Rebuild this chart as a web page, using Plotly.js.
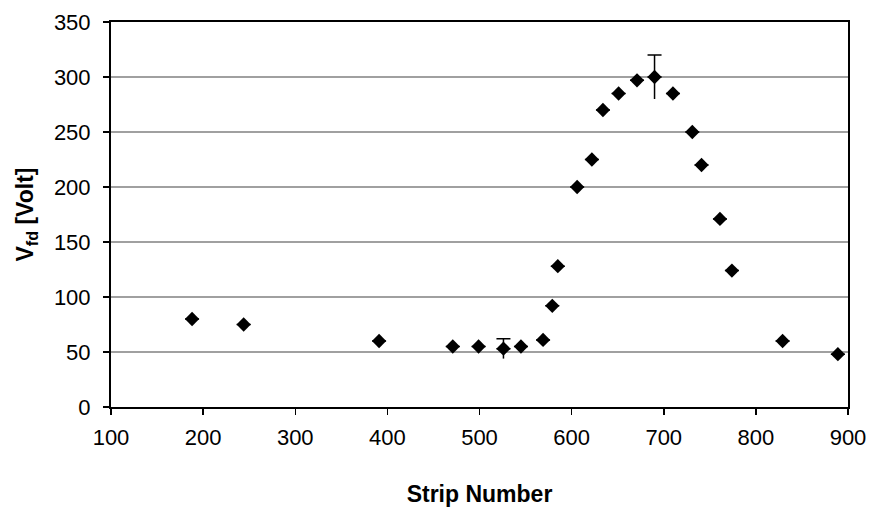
<!DOCTYPE html>
<html>
<head>
<meta charset="utf-8">
<script src="https://cdn.plot.ly/plotly-3.0.1.min.js"></script>
<style>html,body{margin:0;padding:0;background:#fff}#chart{width:872px;height:520px}</style>
</head>
<body>
<div id="chart"></div>
<script>
var stripNumber = [188, 244, 391, 471, 499, 526, 545, 569, 579, 585, 606, 622, 634, 651, 671, 690, 710, 731, 741, 761, 774, 829, 889];
var vfd =         [80,  75,  60,  55,  55,  53,  55,  61,  92,  128, 200, 225, 270, 285, 297, 300, 285, 250, 220, 171, 124, 60,  48];
var errPlus =     [0,   0,   0,   0,   0,   9,   0,   0,   0,   0,   0,   0,   0,   0,   0,   20,  0,   0,   0,   0,   0,   0,   0];
var errMinus =    [0,   0,   0,   0,   0,   9,   0,   0,   0,   0,   0,   0,   0,   0,   0,   20,  0,   0,   0,   0,   0,   0,   0];
var zeros = errPlus.map(function(){return 0;});

var traces = [
  {
    x: stripNumber, y: vfd, type: 'scatter', mode: 'markers',
    marker: {size: 0.1, opacity: 0},
    error_y: {type: 'data', symmetric: false, array: zeros, arrayminus: errMinus, width: 0, thickness: 1.5, color: '#000'},
    hoverinfo: 'skip', showlegend: false
  },
  {
    x: stripNumber, y: vfd, type: 'scatter', mode: 'markers',
    marker: {symbol: 'diamond', size: 11, color: '#000'},
    error_y: {type: 'data', symmetric: false, array: errPlus, arrayminus: zeros, width: 7, thickness: 1.5, color: '#000'},
    showlegend: false
  }
];

var tickFont = {family: 'Arial, "Liberation Sans", sans-serif', size: 22, color: '#000'};
var titleFont = {family: 'Arial, "Liberation Sans", sans-serif', size: 23, color: '#000'};
var layout = {
  width: 872, height: 520,
  margin: {l: 111, r: 24, t: 22, b: 113},
  paper_bgcolor: '#fff', plot_bgcolor: '#fff',
  font: tickFont,
  showlegend: false,
  xaxis: {
    range: [100, 900], tickvals: [100,200,300,400,500,600,700,800,900],
    showgrid: false, zeroline: false,
    showline: true, linecolor: '#000', linewidth: 2, mirror: true,
    ticks: 'outside', ticklen: 6, tickwidth: 1.5, tickcolor: '#000',
    ticklabelstandoff: 4,
    tickfont: tickFont,
    title: {text: '<b>Strip Number</b>', font: titleFont, standoff: 36}
  },
  yaxis: {
    range: [0, 350], tickvals: [0,50,100,150,200,250,300,350],
    showgrid: true, gridcolor: '#a0a0a0', gridwidth: 1.2, zeroline: false,
    showline: true, linecolor: '#000', linewidth: 2, mirror: true,
    ticks: 'outside', ticklen: 6, tickwidth: 1.5, tickcolor: '#000',
    ticklabelstandoff: 8,
    tickfont: tickFont,
    title: {text: '<b>V<sub>fd</sub> [Volt]</b>', font: titleFont, standoff: 14}
  }
};
Plotly.newPlot('chart', traces, layout, {displayModeBar: false, staticPlot: true});
</script>
</body>
</html>
